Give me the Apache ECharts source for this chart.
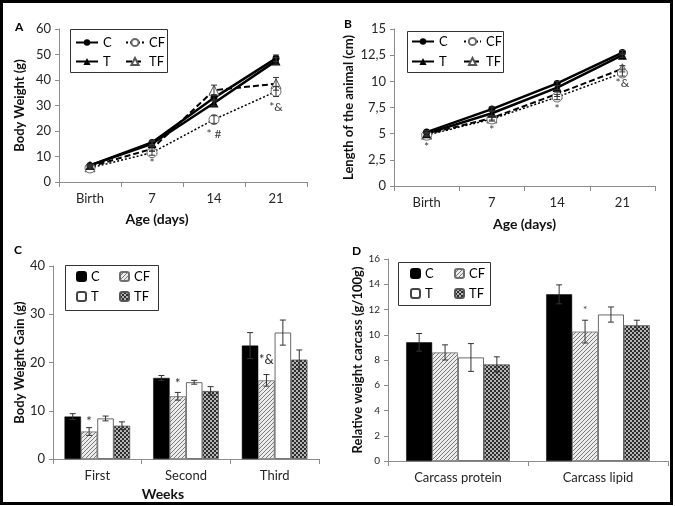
<!DOCTYPE html>
<html><head><meta charset="utf-8">
<script src="https://cdn.jsdelivr.net/npm/echarts@6/dist/echarts.min.js"></script>
<style>html,body{margin:0;padding:0;background:#fff}#chart{width:675px;height:506px}</style>
</head><body><div id="chart"></div>
<script>
// ---------- data ----------
const ages = ['Birth', '7', '14', '21'];
const weightC  = [6.5, 15.5, 33.0, 48.5];
const weightT  = [6.5, 15.0, 31.0, 47.5];
const weightCF = [5.5, 11.5, 24.5, 35.5];
const weightTF = [6.0, 13.0, 36.0, 38.5];
const weightErrC  = [0.5, 0.8, 1.2, 1.3];
const weightErrT  = [0.5, 0.8, 1.2, 1.3];
const weightErrCF = [0.5, 1.0, 1.5, 2.0];
const weightErrTF = [0.5, 1.0, 2.0, 2.5];
const weightMarks = [[1, 7.5, '*'], [2, 18.8, '* #'], [3, 29.4, '*&']];

const lenC  = [5.15, 7.35, 9.8, 12.75];
const lenT  = [5.0, 6.95, 9.4, 12.5];
const lenCF = [4.85, 6.4, 8.5, 10.8];
const lenTF = [4.95, 6.5, 8.8, 11.2];
const lenErrC  = [0.15, 0.2, 0.2, 0.2];
const lenErrT  = [0.15, 0.2, 0.2, 0.2];
const lenErrCF = [0.15, 0.2, 0.25, 0.3];
const lenErrTF = [0.15, 0.2, 0.25, 0.3];
const lenMarks = [[0, 3.75, '*'], [1, 5.35, '*'], [2, 7.35, '*'], [3, 9.8, '*&']];

const weeks = ['First', 'Second', 'Third'];
const gainC  = [8.8, 16.8, 23.5];
const gainCF = [5.7, 13.0, 16.3];
const gainT  = [8.4, 15.9, 26.2];
const gainTF = [6.9, 14.1, 20.6];
const gainErrC  = [0.6, 0.5, 2.7];
const gainErrCF = [0.8, 0.8, 1.2];
const gainErrT  = [0.5, 0.4, 2.6];
const gainErrTF = [0.8, 0.9, 2.0];
const gainMarks = [[0, 1, 7.7, '*'], [1, 1, 15.6, '*'], [2, 1, 20.5, '*&']];

const carcass = ['Carcass protein', 'Carcass lipid'];
const carcC  = [9.4, 13.2];
const carcCF = [8.6, 10.25];
const carcT  = [8.2, 11.6];
const carcTF = [7.65, 10.75];
const carcErrC  = [0.7, 0.75];
const carcErrCF = [0.6, 0.9];
const carcErrT  = [1.1, 0.6];
const carcErrTF = [0.6, 0.4];
const carcMarks = [[1, 1, 12.0, '*']];

const ticksB = ['0', '2,5', '5', '7,5', '10', '12,5', '15'];

// ---------- patterns ----------
function hatchPattern() {
  const c = document.createElement('canvas'); c.width = 4; c.height = 4;
  const g = c.getContext('2d');
  g.fillStyle = '#ececec'; g.fillRect(0, 0, 4, 4);
  g.strokeStyle = '#7a7a7a'; g.lineWidth = 1;
  g.beginPath();
  g.moveTo(-1, 5); g.lineTo(5, -1);
  g.moveTo(-1, 1); g.lineTo(1, -1);
  g.moveTo(3, 5); g.lineTo(5, 3);
  g.stroke();
  return c;
}
function checkerPattern() {
  const c = document.createElement('canvas'); c.width = 4; c.height = 4;
  const g = c.getContext('2d');
  g.fillStyle = '#b4b4b4'; g.fillRect(0, 0, 4, 4);
  g.fillStyle = '#2e2e2e'; g.fillRect(0, 0, 2, 2); g.fillRect(2, 2, 2, 2);
  return c;
}
const hatch = { image: hatchPattern(), repeat: 'repeat' };
const checker = { image: checkerPattern(), repeat: 'repeat' };

const FONT = 'Lato, "Open Sans", sans-serif';
const axisColor = '#8c8c8c';
const labelColor = '#262626';

// ---------- helpers ----------
function capLines(cx, y1, y2) {
  const cap = 3, st = { stroke: '#333', lineWidth: 1 };
  return { type: 'group', children: [
    { type: 'line', shape: { x1: cx, y1: y1, x2: cx, y2: y2 }, style: st },
    { type: 'line', shape: { x1: cx - cap, y1: y1, x2: cx + cap, y2: y1 }, style: st },
    { type: 'line', shape: { x1: cx - cap, y1: y2, x2: cx + cap, y2: y2 }, style: st }
  ] };
}
function errLineSeries(xi, vals, errs) {
  return {
    type: 'custom', xAxisIndex: xi, yAxisIndex: xi, z: 5, silent: true,
    data: vals.map((v, i) => [i, v, errs[i]]),
    renderItem: function (params, api) {
      const x = api.value(0), v = api.value(1), e = api.value(2);
      const top = api.coord([x, v + e]), bot = api.coord([x, v - e]);
      return capLines(top[0], top[1], bot[1]);
    }
  };
}
const CAT_GAP = 0.26;
function barOffset(api, k) {
  const band = api.size([1, 0])[0];
  const bw = band * (1 - CAT_GAP) / 4;
  return (k - 1.5) * bw;
}
function errBarSeries(xi, k, vals, errs) {
  return {
    type: 'custom', xAxisIndex: xi, yAxisIndex: xi, z: 5, silent: true,
    data: vals.map((v, i) => [i, v, errs[i]]),
    renderItem: function (params, api) {
      const x = api.value(0), v = api.value(1), e = api.value(2);
      const top = api.coord([x, v + e]), bot = api.coord([x, v - e]);
      return capLines(top[0] + barOffset(api, k), top[1], bot[1]);
    }
  };
}
function lineMarkSeries(xi, marks, fs) {
  return {
    type: 'custom', xAxisIndex: xi, yAxisIndex: xi, z: 6, silent: true,
    data: marks,
    renderItem: function (params, api) {
      const p = api.coord([api.value(0), api.value(1)]);
      return { type: 'text', x: p[0], y: p[1], style: { text: marks[params.dataIndex][2], fill: '#404040', font: fs + 'px ' + FONT, align: 'center', verticalAlign: 'middle' } };
    }
  };
}
function barMarkSeries(xi, marks, fs) {
  return {
    type: 'custom', xAxisIndex: xi, yAxisIndex: xi, z: 6, silent: true,
    data: marks.map(m => [m[0], m[2]]),
    renderItem: function (params, api) {
      const m = marks[params.dataIndex];
      const p = api.coord([m[0], m[2]]);
      return { type: 'text', x: p[0] + barOffset(api, m[1]), y: p[1], style: { text: m[3], fill: '#303030', font: fs + 'px ' + FONT, align: 'center', verticalAlign: 'middle' } };
    }
  };
}
function lineSeries(xi, name, data) {
  const base = { type: 'line', name: name, xAxisIndex: xi, yAxisIndex: xi, data: data, z: 3 };
  if (name === 'C') return Object.assign(base, { symbol: 'circle', symbolSize: 7, lineStyle: { color: '#000', width: 2.5 }, itemStyle: { color: '#000' } });
  if (name === 'T') return Object.assign(base, { symbol: 'triangle', symbolSize: 9, lineStyle: { color: '#000', width: 2.5 }, itemStyle: { color: '#000' } });
  if (name === 'CF') return Object.assign(base, { symbol: 'circle', symbolSize: 10, lineStyle: { color: '#000', width: 1.5, type: [2, 2] }, itemStyle: { color: '#fff', borderColor: '#6a6a6a', borderWidth: 1 } });
  return Object.assign(base, { symbol: 'triangle', symbolSize: 10, lineStyle: { color: '#000', width: 2, type: [6, 3] }, itemStyle: { color: '#fff', borderColor: '#555', borderWidth: 1 } });
}
const barStyles = {
  C: { color: '#000', borderColor: '#000', borderWidth: 0.5 },
  CF: { color: hatch, borderColor: '#6e6e6e', borderWidth: 0.8 },
  T: { color: '#fff', borderColor: '#444', borderWidth: 0.8 },
  TF: { color: checker, borderColor: '#555', borderWidth: 0.8 }
};
function barSeries(xi, name, data) {
  return { type: 'bar', name: 'b' + name, xAxisIndex: xi, yAxisIndex: xi, data: data,
    barGap: '0%', barCategoryGap: (CAT_GAP * 100) + '%', itemStyle: barStyles[name], z: 2 };
}
function catAxis(gi, cats, fs, name, nameOpts) {
  return Object.assign({
    type: 'category', gridIndex: gi, data: cats, boundaryGap: true,
    axisLine: { lineStyle: { color: axisColor, width: 1 } },
    axisTick: { show: true, length: 5, lineStyle: { color: axisColor } },
    axisLabel: { color: labelColor, fontSize: fs, fontFamily: FONT, margin: 10 },
    name: name, nameLocation: 'middle',
    nameTextStyle: { color: '#111', fontWeight: 'bold', fontSize: 14, fontFamily: FONT }
  }, nameOpts || {});
}
function valAxis(gi, max, interval, fs, name, gap, extra) {
  return Object.assign({
    type: 'value', gridIndex: gi, min: 0, max: max, interval: interval,
    splitLine: { show: false },
    axisLine: { show: true, lineStyle: { color: axisColor, width: 1 } },
    axisTick: { show: true, length: 4, lineStyle: { color: axisColor } },
    axisLabel: { color: labelColor, fontSize: fs, fontFamily: FONT, margin: 8 },
    name: name, nameLocation: 'middle', nameRotate: 90, nameGap: gap,
    nameTextStyle: { color: '#111', fontWeight: 'bold', fontSize: 13, fontFamily: FONT }
  }, extra || {});
}
function legendItem(left, top, name, iw, ih, fmt) {
  return {
    left: left, top: top, orient: 'horizontal', data: [name], padding: 0,
    itemWidth: iw, itemHeight: ih, itemGap: 0,
    selectedMode: false,
    lineStyle: { color: '#000' },
    textStyle: { color: '#000', fontSize: 13, fontFamily: FONT },
    formatter: fmt
  };
}
const barFmt = n => n.slice(1);

const option = {
  animation: false,
  backgroundColor: '#fff',
  textStyle: { fontFamily: FONT },
  grid: [
    { left: 59, top: 29, width: 248, height: 153 },
    { left: 394, top: 29, width: 261, height: 157 },
    { left: 53, top: 266, width: 266, height: 193 },
    { left: 388, top: 259, width: 280, height: 202 }
  ],
  xAxis: [
    catAxis(0, ages, 13, 'Age (days)', { nameGap: 30, nameTextStyle: { color: '#111', fontWeight: 'bold', fontSize: 14, fontFamily: FONT, padding: [0, 52, 0, 0] } }),
    catAxis(1, ages, 13, 'Age (days)', { nameGap: 31 }),
    catAxis(2, weeks, 13, 'Weeks', { nameGap: 28, nameTextStyle: { color: '#111', fontWeight: 'bold', fontSize: 14, fontFamily: FONT, padding: [0, 46, 0, 0] } }),
    catAxis(3, carcass, 13, '', {})
  ],
  yAxis: [
    valAxis(0, 60, 10, 13, 'Body Weight (g)', 33),
    valAxis(1, 15, 2.5, 13, 'Length of the animal (cm)', 39, { axisLabel: { color: labelColor, fontSize: 13, fontFamily: FONT, margin: 8, formatter: v => ticksB[Math.round(v / 2.5)] } }),
    valAxis(2, 40, 10, 13, 'Body Weight Gain (g)', 27),
    valAxis(3, 16, 2, 10, 'Relative weight carcass (g/100g)', 23)
  ],
  legend: [
    legendItem(75, 36, 'C', 22, 8), legendItem(125, 36, 'CF', 18, 9),
    legendItem(75, 55, 'T', 22, 9), legendItem(125, 55, 'TF', 18, 9),
    legendItem(411, 35, 'C', 22, 8), legendItem(463, 35, 'CF', 17, 9),
    legendItem(411, 55, 'T', 22, 9), legendItem(463, 55, 'TF', 17, 9),
    legendItem(76, 270, 'bC', 9, 9, barFmt), legendItem(119, 270, 'bCF', 9, 9, barFmt),
    legendItem(76, 290, 'bT', 9, 9, barFmt), legendItem(119, 290, 'bTF', 9, 9, barFmt),
    legendItem(410, 267, 'bC', 9, 9, barFmt), legendItem(454, 267, 'bCF', 9, 9, barFmt),
    legendItem(410, 287, 'bT', 9, 9, barFmt), legendItem(454, 287, 'bTF', 9, 9, barFmt)
  ],
  graphic: [
    { type: 'rect', shape: { x: 1.5, y: 1.5, width: 670, height: 502 }, style: { fill: 'none', stroke: '#000', lineWidth: 3 }, z: 100 },
    { type: 'rect', shape: { x: 70.5, y: 29.5, width: 97, height: 43 }, style: { fill: 'none', stroke: '#333', lineWidth: 1 }, z: 100 },
    { type: 'rect', shape: { x: 407.5, y: 31.5, width: 96, height: 41 }, style: { fill: 'none', stroke: '#333', lineWidth: 1 }, z: 100 },
    { type: 'rect', shape: { x: 65.5, y: 265.5, width: 93, height: 45 }, style: { fill: 'none', stroke: '#333', lineWidth: 1 }, z: 100 },
    { type: 'rect', shape: { x: 398.5, y: 262.5, width: 92, height: 43 }, style: { fill: 'none', stroke: '#333', lineWidth: 1 }, z: 100 },
    { type: 'text', left: 15, top: 21, style: { text: 'A', font: 'bold 12px ' + FONT, fill: '#000' } },
    { type: 'text', left: 344, top: 18, style: { text: 'B', font: 'bold 12px ' + FONT, fill: '#000' } },
    { type: 'text', left: 14, top: 244, style: { text: 'C', font: 'bold 12px ' + FONT, fill: '#000' } },
    { type: 'text', left: 352, top: 245, style: { text: 'D', font: 'bold 12px ' + FONT, fill: '#000' } }
  ],
  series: [
    lineSeries(0, 'TF', weightTF), lineSeries(0, 'CF', weightCF), lineSeries(0, 'T', weightT), lineSeries(0, 'C', weightC),
    errLineSeries(0, weightC, weightErrC), errLineSeries(0, weightT, weightErrT),
    errLineSeries(0, weightCF, weightErrCF), errLineSeries(0, weightTF, weightErrTF),
    lineMarkSeries(0, weightMarks, 12),
    lineSeries(1, 'TF', lenTF), lineSeries(1, 'CF', lenCF), lineSeries(1, 'T', lenT), lineSeries(1, 'C', lenC),
    errLineSeries(1, lenC, lenErrC), errLineSeries(1, lenT, lenErrT),
    errLineSeries(1, lenCF, lenErrCF), errLineSeries(1, lenTF, lenErrTF),
    lineMarkSeries(1, lenMarks, 12),
    barSeries(2, 'C', gainC), barSeries(2, 'CF', gainCF), barSeries(2, 'T', gainT), barSeries(2, 'TF', gainTF),
    errBarSeries(2, 0, gainC, gainErrC), errBarSeries(2, 1, gainCF, gainErrCF),
    errBarSeries(2, 2, gainT, gainErrT), errBarSeries(2, 3, gainTF, gainErrTF),
    barMarkSeries(2, gainMarks, 13),
    barSeries(3, 'C', carcC), barSeries(3, 'CF', carcCF), barSeries(3, 'T', carcT), barSeries(3, 'TF', carcTF),
    errBarSeries(3, 0, carcC, carcErrC), errBarSeries(3, 1, carcCF, carcErrCF),
    errBarSeries(3, 2, carcT, carcErrT), errBarSeries(3, 3, carcTF, carcErrTF),
    barMarkSeries(3, carcMarks, 10)
  ]
};
const chart = echarts.init(document.getElementById('chart'), null, { renderer: 'canvas' });
chart.setOption(option);
</script>
</body></html>
